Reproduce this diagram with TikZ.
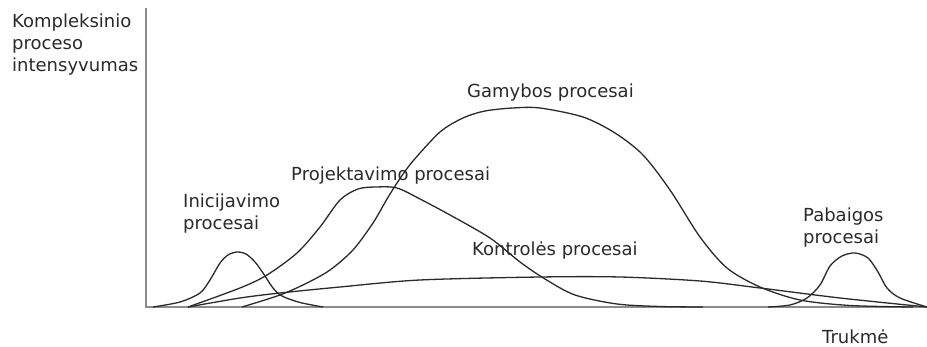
\documentclass[tikz,border=0pt]{standalone}
\usepackage{fontspec}
\setmainfont{DejaVu Sans}
\definecolor{ink}{HTML}{2A2A2A}
\definecolor{axisgray}{HTML}{8C8C8C}
\tikzset{
  lbl/.style={anchor=base west, inner sep=0pt, text=ink, align=left,
    font=\fontsize{18}{22}\selectfont},
  curve/.style={draw=ink, line width=1.3pt, smooth, tension=0.5},
  axisline/.style={draw=axisgray, line width=1.6pt}
}
\begin{document}
\begin{tikzpicture}[x=1pt,y=-1pt]
\useasboundingbox (0,0) rectangle (927,347);
% axes
\coordinate (top) at (146,8);
\coordinate (origin) at (146,307);
\coordinate (right) at (927,307);
\draw[axisline] (top) -- (origin) -- (right);
% Inicijavimo
\draw[curve] plot coordinates {(153,307) (180,302) (200,293) (210,280) (220,263) (228,255) (237,252) (246,254) (255,262) (263,273) (273,288) (282,296) (300,302.5) (323,307)};
% Projektavimo
\draw[curve] plot coordinates {(188,307) (240,288) (267,275) (297,253) (320,227) (340,200) (358,189) (376,187) (397,188) (420,199) (450,215) (490,238) (520,262) (545,279) (575,295) (617,304) (660,306.5) (703,307)};
% Gamybos
\draw[curve] plot coordinates {(242,307) (280,295) (307,283) (330,270) (353,250) (373,223) (387,199) (399,180) (413,161) (440,132) (463,118) (485,111) (513,108) (540,108) (583,117) (615,133) (643,155) (670,190) (700,237) (727,268) (760,287) (800,300) (850,305.5) (913,307)};
% Kontroles
\draw[curve] plot coordinates {(188,307) (240,298) (280,293) (340,287) (420,280) (540,277) (620,277) (700,281) (760,288) (840,298) (927,307)};
% Pabaigos
\draw[curve] plot coordinates {(768,307) (790,305) (807,298) (820,285) (830,266) (842,256) (855,253) (868,258) (878,272) (887,288) (900,298) (927,307)};
% labels
\node[lbl] (ylab) at (12,72) {Kompleksinio\\proceso\\intensyvumas};
\node[lbl] (xlab) at (822,344) {Trukmė};
\node[lbl] (gam) at (467,98) {Gamybos procesai};
\node[lbl] (proj) at (291,181) {Projektavimo procesai};
\node[lbl] (init) at (183,230) {Inicijavimo\\procesai};
\node[lbl] (kont) at (472,256) {Kontrolės procesai};
\node[lbl] (pab) at (803,244) {Pabaigos\\procesai};
\end{tikzpicture}
\end{document}
